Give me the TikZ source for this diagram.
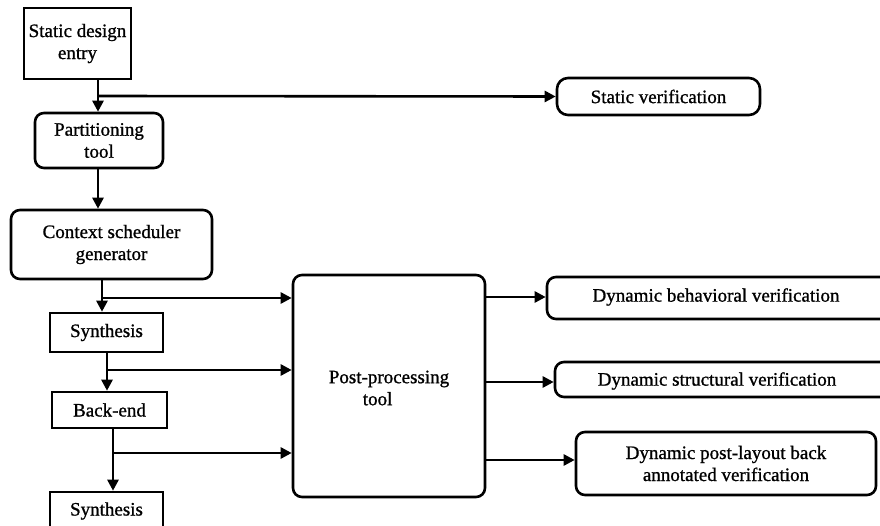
\documentclass[tikz,border=0pt]{standalone}
\usepackage{fontspec}
\setmainfont[FakeBold=1]{Liberation Serif}
\usetikzlibrary{arrows.meta,calc}
\begin{document}
\begin{tikzpicture}[x=1pt,y=-1pt,
  every node/.style={font=\fontsize{19}{22}\selectfont, align=center, inner sep=0pt},
  box/.style={draw, line width=2.6pt},
  rbox/.style={draw, line width=2.6pt, rounded corners=9pt},
  arr/.style={line width=2.6pt, -{Triangle[length=11pt,width=11pt]}},
  ln/.style={line width=2.6pt}]
\useasboundingbox (0,0) rectangle (880,526);
\clip (0,0) rectangle (880,526);

% left column
\node[box,  minimum width=107, minimum height=71] (sde)  at (77.5,43.5)  {Static design\\entry};
\node[rbox, minimum width=128, minimum height=55] (pt)   at (99,140.5)   {Partitioning\\tool};
\node[rbox, minimum width=201, minimum height=69] (csg)  at (111.5,244.5) {Context scheduler\\generator};
\node[box,  minimum width=113, minimum height=39] (syn1) at (106.5,332.5) {Synthesis};
\node[box,  minimum width=115, minimum height=36] (be)   at (109.5,410)  {Back-end};
\node[box,  minimum width=113, minimum height=58] (syn2) at (106.5,521)   {};
\node at (106.5,511) {Synthesis};

% post-processing block
\node[rbox, minimum width=192, minimum height=222] (ppt) at (389,386) {};
\node[align=left] (ppttext) at (389,388) {Post-processing\\\hspace*{34pt}tool};

% verification targets
\node[rbox, rounded corners=11pt, minimum width=203, minimum height=37] (sv) at (658.5,96.5) {Static verification};
\node[rbox, minimum width=353, minimum height=42] (dbv) at (723.5,298) {};
\node at (716,297) {Dynamic behavioral verification};
\node[rbox, minimum width=345, minimum height=35] (dsv) at (727.5,379.5) {};
\node at (717,381) {Dynamic structural verification};
\node[rbox, minimum width=300, minimum height=63] (dpl) at (726,463.5) {Dynamic post-layout back\\annotated verification};

% junction points
\coordinate (j0) at (98,96);
\coordinate (j1) at (102,298);
\coordinate (j2) at (107,370);
\coordinate (j3) at (113,453);

% main chain
\draw[arr] (sde.south -| j0) -- (pt.north -| j0);
\draw[arr] (j0) -- (sv.west);
\draw[arr] (pt.south -| j0) -- (csg.north -| j0);
\draw[arr] (csg.south -| j1) -- (syn1.north -| j1);
\draw[arr] (syn1.south -| j2) -- (be.north -| j2);
\draw[arr] (be.south -| j3) -- (syn2.north -| j3);

% feeds into post-processing
\draw[arr] (j1) -- (ppt.west |- j1);
\draw[arr] (j2) -- (ppt.west |- j2);
\draw[arr] (j3) -- (ppt.west |- j3);

% outputs of post-processing
\coordinate (o1) at (485,297);
\coordinate (o2) at (485,382);
\coordinate (o3) at (485,460);
\draw[arr] (o1) -- (dbv.west |- o1);
\draw[arr] (o2) -- (dsv.west |- o2);
\draw[arr] (o3) -- (dpl.west |- o3);
\end{tikzpicture}
\end{document}
